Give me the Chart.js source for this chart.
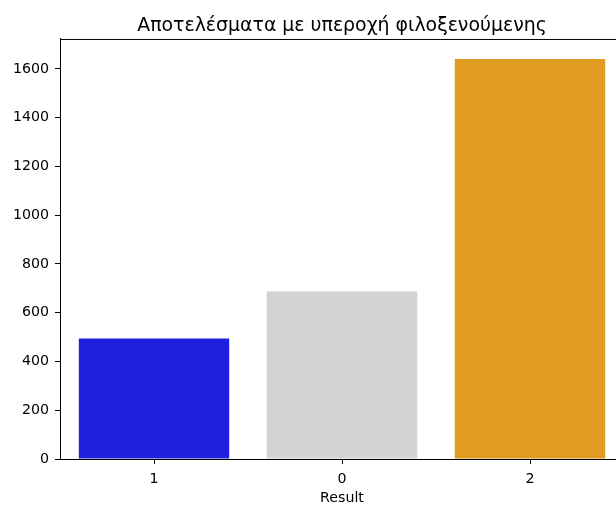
<!DOCTYPE html>
<html>
<head>
<meta charset="utf-8">
<script src="https://cdn.jsdelivr.net/npm/chart.js@4/dist/chart.umd.min.js"></script>
<style>
  html, body { margin: 0; padding: 0; background: #fff; overflow: hidden; }
  #wrap { width: 624px; height: 505px; }
</style>
</head>
<body>
<div id="wrap"><canvas id="resultChart" width="624" height="505"></canvas></div>
<script>
// away-win outcome counts
const results = ["1", "0", "2"];
const counts = [494, 687, 1641];
const barColors = ["#2020df", "#d3d3d3", "#df9c20"];
const yTicks = [0, 200, 400, 600, 800, 1000, 1200, 1400, 1600];

const font = "'DejaVu Sans', sans-serif";

// matplotlib-like frame: top spine (left/bottom come from the axes borders)
const frame = {
    id: "frame",
    afterDraw(chart) {
        let ctx = chart.ctx;
        let a = chart.chartArea;
        ctx.save();
        ctx.strokeStyle = "#000";
        ctx.lineWidth = 1;
        ctx.beginPath();
        ctx.moveTo(a.left, a.top + 0.5);
        ctx.lineTo(a.right, a.top + 0.5);
        ctx.stroke();
        ctx.restore();
    }
};

new Chart(document.getElementById("resultChart"), {
    type: "bar",
    data: {
        labels: results,
        datasets: [{
            data: counts,
            backgroundColor: barColors,
            borderWidth: 0,
            categoryPercentage: 0.8,
            barPercentage: 1
        }]
    },
    options: {
        responsive: false,
        animation: false,
        layout: { padding: 0 },
        plugins: {
            legend: { display: false },
            tooltip: { enabled: false },
            title: {
                display: true,
                fullSize: false, // center over the plot area, not the canvas
                text: "Αποτελέσματα με υπεροχή φιλοξενούμενης",
                color: "#000",
                font: { family: font, size: 18.9, weight: "normal", lineHeight: 1.2 },
                padding: { top: 15, bottom: 1.3 }
            }
        },
        scales: {
            x: {
                grid: { display: true, offset: false, drawOnChartArea: false, drawTicks: true, tickLength: 5, color: "#000" },
                border: { display: true, color: "#000", width: 1 },
                ticks: { color: "#000", padding: 7, font: { family: font, size: 14.2 } },
                title: {
                    display: true,
                    text: "Result",
                    color: "#000",
                    font: { family: font, size: 14.2 },
                    padding: { top: 0, bottom: -2 }
                },
                afterFit(scale) { scale.height = 46; }
            },
            y: {
                min: 0,
                max: 1723,
                grid: { display: true, drawOnChartArea: false, drawTicks: true, tickLength: 5, color: "#000" },
                border: { display: true, color: "#000", width: 1 },
                ticks: {
                    color: "#000",
                    padding: 6,
                    includeBounds: false,
                    font: { family: font, size: 14.2 },
                    callback: function(value) {
                        return String(value);
                    }
                },
                afterBuildTicks(scale) {
                    scale.ticks = yTicks.map(v => ({ value: v }));
                },
                afterFit(scale) { scale.width = 60; }
            }
        }
    },
    plugins: [frame]
});
</script>
</body>
</html>
